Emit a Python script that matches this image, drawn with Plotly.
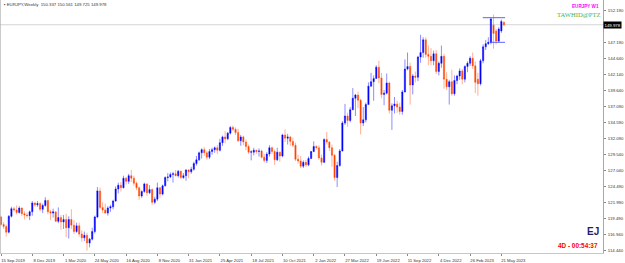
import pandas as pd
import plotly.graph_objects as go

# ---------------- data (EURJPY weekly) ----------------
first_week = "2019-09-15"
n_weeks = 194
weeks = pd.date_range(first_week, periods=n_weeks, freq="7D")

opens = [
    119.7, 118.5, 118.2, 117.3, 119.8, 121.0, 120.8, 120.4, 121.1, 120.2,
    120.0, 119.9, 120.5, 121.9, 121.6, 121.8, 120.9, 121.5, 122.3, 120.5,
    120.3, 120.5, 119.0, 119.6, 118.9, 119.3, 118.0, 119.3, 118.4, 117.4,
    118.3, 117.0, 116.4, 116.8, 115.6, 116.2, 117.4, 119.7, 123.8, 121.2,
    120.8, 120.3, 121.1, 121.3, 122.2, 124.1, 124.7, 124.3, 125.8, 125.3,
    126.2, 125.8, 125.0, 124.3, 123.0, 123.7, 124.9, 123.5, 124.0, 122.0,
    122.5, 124.3, 123.3, 124.6, 125.9, 126.0, 126.4, 126.5, 126.2, 126.9,
    125.9, 126.2, 127.1, 126.8, 127.2, 128.1, 128.7, 129.8, 130.3, 129.8,
    129.1, 130.0, 130.3, 130.6, 130.2, 131.4, 132.3, 132.0, 132.9, 133.8,
    133.5, 133.0, 131.7, 132.3, 131.5, 130.8, 129.9, 129.9, 130.2, 130.0,
    130.1, 129.1, 128.6, 129.6, 130.6, 130.0, 128.7, 129.9, 129.3, 132.6,
    132.1, 132.3, 131.6, 131.0, 128.8, 128.5, 127.7, 128.3, 127.9, 128.9,
    130.0, 130.8, 130.6, 129.0, 128.3, 131.9, 131.5, 130.6, 129.4, 125.9,
    127.8, 130.1, 134.5, 135.6, 134.9, 136.6, 138.4, 138.9, 138.1, 134.5,
    135.0, 137.4, 140.3, 141.0, 141.5, 143.3, 141.6, 139.0, 139.2, 140.8,
    136.5, 137.2, 137.5, 137.0, 136.3, 139.4, 143.0, 143.4, 140.5, 141.9,
    141.7, 144.9, 145.6, 147.6, 145.3, 145.0, 144.3, 145.4, 142.6, 143.9,
    145.0, 141.4, 140.2, 141.0, 139.1, 141.2, 141.9, 142.7, 141.4, 143.4,
    143.9, 144.7, 143.5, 141.4, 140.7, 144.3, 146.5, 147.0, 147.2, 149.9,
    149.0, 147.4, 149.0, 150.337,
]
highs = [
    119.9, 118.9, 118.5, 120.0, 121.3, 121.3, 121.5, 121.4, 121.2, 120.6,
    120.4, 120.7, 122.2, 122.0, 122.2, 122.0, 121.8, 122.8, 122.4, 120.8,
    121.0, 120.5, 121.2, 120.0, 120.0, 120.2, 119.8, 120.9, 119.2, 118.8,
    118.8, 117.6, 117.4, 117.2, 116.4, 118.0, 119.9, 124.4, 124.3, 122.0,
    121.8, 121.4, 121.6, 122.4, 124.5, 125.1, 125.2, 126.2, 126.0, 126.5,
    127.1, 126.2, 125.3, 124.5, 123.9, 125.1, 125.0, 124.7, 124.2, 122.9,
    125.1, 124.4, 124.8, 126.1, 126.6, 126.7, 126.8, 127.1, 127.1, 127.0,
    126.6, 127.2, 127.2, 127.6, 128.4, 129.3, 130.0, 130.5, 130.7, 130.1,
    130.4, 130.6, 130.8, 131.0, 132.0, 132.5, 133.2, 133.1, 134.0, 134.1,
    133.8, 133.6, 132.6, 132.5, 131.9, 131.1, 130.2, 130.6, 130.3, 130.5,
    130.3, 129.6, 129.9, 131.0, 130.8, 130.3, 130.6, 130.0, 132.8, 133.5,
    132.8, 132.5, 132.2, 131.4, 129.5, 129.3, 128.6, 128.7, 129.2, 130.1,
    131.6, 131.0, 131.0, 129.5, 132.1, 133.1, 131.6, 131.1, 129.6, 128.4,
    130.4, 134.8, 137.5, 136.1, 137.0, 140.0, 139.1, 139.4, 138.3, 137.0,
    137.7, 140.9, 142.4, 142.0, 143.6, 144.3, 142.4, 139.7, 142.3, 141.0,
    137.6, 138.6, 138.0, 137.7, 139.7, 144.5, 145.6, 144.0, 142.2, 142.6,
    145.1, 148.4, 148.0, 148.0, 146.7, 146.3, 145.9, 146.0, 144.2, 146.7,
    145.4, 142.5, 141.3, 142.9, 142.0, 142.1, 143.1, 143.0, 143.6, 144.2,
    145.0, 145.6, 144.2, 142.4, 144.6, 146.9, 147.6, 148.0, 151.1, 151.6,
    149.3, 149.6, 150.8, 150.561,
]
lows = [
    118.3, 117.8, 116.6, 117.1, 119.6, 120.5, 120.1, 120.2, 119.8, 119.3,
    119.6, 119.2, 119.9, 121.3, 121.3, 120.6, 120.3, 121.3, 120.1, 119.2,
    119.6, 118.9, 118.7, 117.7, 117.8, 116.5, 116.3, 117.8, 117.0, 117.2,
    116.6, 115.8, 115.9, 114.4, 114.9, 116.0, 117.1, 119.5, 120.9, 120.3,
    120.2, 119.9, 120.5, 120.9, 122.1, 123.4, 123.7, 124.2, 124.8, 124.9,
    125.2, 124.6, 123.9, 122.4, 122.7, 123.5, 123.0, 123.3, 121.6, 121.7,
    122.2, 122.7, 123.1, 124.5, 125.3, 125.8, 125.1, 126.1, 125.9, 125.7,
    125.7, 125.4, 125.8, 126.5, 127.0, 127.8, 128.5, 128.9, 129.3, 128.7,
    128.8, 129.5, 129.8, 129.6, 130.0, 130.9, 131.3, 131.8, 132.7, 133.2,
    132.6, 131.5, 130.9, 131.0, 130.2, 129.6, 128.6, 129.4, 129.6, 129.2,
    128.9, 128.3, 128.2, 129.2, 129.6, 127.9, 128.5, 128.4, 129.1, 131.5,
    131.1, 130.9, 130.7, 128.5, 128.1, 127.4, 127.4, 127.6, 127.7, 128.8,
    129.9, 130.3, 128.7, 127.8, 128.2, 131.1, 130.1, 127.6, 125.4, 124.4,
    127.6, 130.0, 134.2, 133.9, 134.6, 136.5, 135.6, 136.8, 132.7, 134.0,
    134.6, 137.4, 140.2, 138.0, 141.5, 140.8, 138.4, 137.3, 139.0, 136.0,
    133.4, 136.0, 136.1, 135.8, 135.8, 139.3, 142.8, 137.4, 139.0, 140.9,
    141.1, 144.0, 144.8, 144.8, 143.6, 143.6, 143.6, 142.2, 142.0, 143.2,
    139.9, 139.7, 137.4, 138.8, 138.8, 140.6, 141.3, 140.6, 140.9, 142.5,
    143.5, 143.0, 139.2, 138.8, 140.4, 143.9, 146.0, 146.8, 146.9, 146.2,
    146.9, 147.2, 148.7, 149.725,
]
closes = [
    118.5, 118.2, 117.3, 119.8, 121.0, 120.8, 120.4, 121.1, 120.2, 120.0,
    119.9, 120.5, 121.9, 121.6, 121.8, 120.9, 121.5, 122.3, 120.5, 120.3,
    120.5, 119.0, 119.6, 118.9, 119.3, 118.0, 119.3, 118.4, 117.4, 118.3,
    117.0, 116.4, 116.8, 115.6, 116.2, 117.4, 119.7, 123.8, 121.2, 120.8,
    120.3, 121.1, 121.3, 122.2, 124.1, 124.7, 124.3, 125.8, 125.3, 126.2,
    125.8, 125.0, 124.3, 123.0, 123.7, 124.9, 123.5, 124.0, 122.0, 122.5,
    124.3, 123.3, 124.6, 125.9, 126.0, 126.4, 126.5, 126.2, 126.9, 125.9,
    126.2, 127.1, 126.8, 127.2, 128.1, 128.7, 129.8, 130.3, 129.8, 129.1,
    130.0, 130.3, 130.6, 130.2, 131.4, 132.3, 132.0, 132.9, 133.8, 133.5,
    133.0, 131.7, 132.3, 131.5, 130.8, 129.9, 129.95, 130.2, 130.0, 130.1,
    129.1, 128.6, 129.6, 130.6, 130.0, 128.7, 129.9, 129.3, 132.6, 132.1,
    132.3, 131.6, 131.0, 128.8, 128.5, 127.7, 128.3, 127.9, 128.9, 130.0,
    130.8, 130.6, 129.0, 128.3, 131.9, 131.5, 130.6, 129.4, 125.9, 127.8,
    130.1, 134.5, 135.6, 134.9, 136.6, 138.4, 138.9, 138.1, 134.5, 135.0,
    137.4, 140.3, 141.0, 141.5, 143.3, 141.6, 139.0, 139.2, 140.8, 136.5,
    137.2, 137.5, 137.0, 136.3, 139.4, 143.0, 143.4, 140.5, 141.9, 141.7,
    144.9, 145.6, 147.6, 145.3, 145.0, 144.3, 145.4, 142.6, 143.9, 145.0,
    141.4, 140.2, 141.0, 139.1, 141.2, 141.9, 142.7, 141.4, 143.4, 143.9,
    144.7, 143.5, 140.9, 140.7, 144.3, 146.5, 147.0, 147.2, 150.9, 148.6,
    147.4, 149.3, 150.5, 149.978,
]

tick_dates = [
    "2019-09-15", "2019-12-08", "2020-03-01", "2020-05-24", "2020-08-16",
    "2020-11-08", "2021-01-31", "2021-04-25", "2021-07-18", "2021-10-10",
    "2022-01-02", "2022-03-27", "2022-06-19", "2022-09-11", "2022-12-04",
    "2023-02-26", "2023-05-21",
]
tick_labels = [
    "15 Sep 2019", "8 Dec 2019", "1 Mar 2020", "24 May 2020", "16 Aug 2020",
    "8 Nov 2020", "31 Jan 2021", "25 Apr 2021", "18 Jul 2021", "10 Oct 2021",
    "2 Jan 2022", "27 Mar 2022", "19 Jun 2022", "11 Sep 2022", "4 Dec 2022",
    "26 Feb 2023", "21 May 2023",
]
price_ticks = [152.19, 147.19, 144.64, 142.14, 139.64, 137.09, 134.59, 132.09,
               129.54, 127.04, 124.49, 121.99, 119.49, 116.94, 114.44]
price_labels = ["152.190", "147.190", "144.640", "142.140", "139.640", "137.090",
                "134.590", "132.090", "129.540", "127.040", "124.490", "121.990",
                "119.490", "116.940", "114.440"]

last_price = 149.978
box_high = 151.1
box_low = 147.2
title_text = "▪ EURJPY,Weekly  150.337 150.561 149.725 149.978"

# ---------------- layout geometry ----------------
W, H = 625, 263
ML, MR, MT, MB = 0, 22, 0, 10
PLOT_H = H - MT - MB
px_per_week = 2.606
t0 = weeks[0]
x_start = t0 - pd.Timedelta(days=7 * 1 / px_per_week)
x_end = t0 + pd.Timedelta(days=7 * 602 / px_per_week)
y_range = [114.015, 153.876]

def py(p):
    """pixel row -> paper y"""
    return 1 - p / PLOT_H

FONT = "Liberation Sans, Arial, sans-serif"

fig = go.Figure()
fig.add_trace(go.Candlestick(
    x=weeks, open=opens, high=highs, low=lows, close=closes,
    increasing=dict(line=dict(color="rgba(0,0,255,0.45)", width=1), fillcolor="#0000FF"),
    decreasing=dict(line=dict(color="rgba(255,69,0,0.42)", width=1), fillcolor="#FF4500"),
    whiskerwidth=0, hoverinfo="skip", showlegend=False,
))

shapes = [
    # bid line
    dict(type="line", xref="paper", x0=0, x1=1, yref="y", y0=last_price, y1=last_price,
         line=dict(color="#d4d4d4", width=1), layer="below"),
    # left border
    dict(type="line", xref="paper", x0=0, x1=0, yref="paper", y0=0, y1=1,
         line=dict(color="#a8a8a8", width=1.2)),
    # range box lines
    dict(type="line", xref="x", x0="2023-04-01", x1="2023-05-31", yref="y",
         y0=box_high, y1=box_high, line=dict(color="rgba(70,70,255,0.7)", width=1.2)),
    dict(type="line", xref="x", x0="2023-04-20", x1="2023-05-31", yref="y",
         y0=box_low, y1=box_low, line=dict(color="rgba(70,70,255,0.7)", width=1.2)),
]

annotations = [
    dict(text=title_text, xref="paper", yref="paper", x=0.004, y=py(5),
         xanchor="left", yanchor="middle", showarrow=False,
         font=dict(family=FONT, size=4.3, color="#333333")),
    dict(text="<b>EURJPY W1</b>", xref="paper", yref="paper", x=1, y=py(6.5),
         xanchor="right", yanchor="middle", xshift=-2, showarrow=False,
         font=dict(family=FONT, size=4.6, color="#FF00FF")),
    dict(text="TAWHID@PTZ", xref="paper", yref="paper", x=1, y=py(14),
         xanchor="right", yanchor="middle", xshift=-1, showarrow=False,
         font=dict(family="Liberation Serif, serif", size=6.6, color="#4CAF50")),
    dict(text="<b>EJ</b>", xref="paper", yref="paper", x=1, y=py(231.5),
         xanchor="right", yanchor="middle", xshift=-2, showarrow=False,
         font=dict(family=FONT, size=10, color="#1F1F6B")),
    dict(text="<b>4D - 00:54:37</b>", xref="paper", yref="paper", x=1, y=py(245),
         xanchor="right", yanchor="middle", xshift=-3, showarrow=False,
         font=dict(family=FONT, size=6.4, color="#FF0000")),
    dict(text="149.978", xref="paper", yref="y", x=1, y=last_price,
         xanchor="left", yanchor="middle", xshift=0, showarrow=False,
         bgcolor="#000000", borderpad=0.6,
         font=dict(family=FONT, size=4.3, color="#FFFFFF")),
]

fig.update_layout(
    width=W, height=H,
    margin=dict(l=ML, r=MR, t=MT, b=MB, pad=0),
    paper_bgcolor="#FFFFFF", plot_bgcolor="#FFFFFF",
    showlegend=False, hovermode=False,
    shapes=shapes, annotations=annotations,
    xaxis=dict(
        type="date", range=[x_start, x_end], rangeslider=dict(visible=False),
        showgrid=False, zeroline=False, showline=True, linecolor="#c8c8c8", linewidth=1,
        tickvals=tick_dates, ticktext=tick_labels, ticks="outside", ticklen=2,
        tickcolor="#888888", tickwidth=1, ticklabelshift=12, ticklabelstandoff=1,
        tickfont=dict(family=FONT, size=4.2, color="#333333"), automargin=False,
        fixedrange=True,
    ),
    yaxis=dict(
        side="right", range=y_range, showgrid=False, zeroline=False,
        showline=True, linecolor="#a8a8a8", linewidth=1,
        tickvals=price_ticks, ticktext=price_labels, ticks="outside", ticklen=2,
        tickcolor="#888888", tickwidth=1, ticklabelstandoff=1,
        tickfont=dict(family=FONT, size=4.3, color="#333333"), automargin=False,
        fixedrange=True,
    ),
)

fig.write_html("out.html")
